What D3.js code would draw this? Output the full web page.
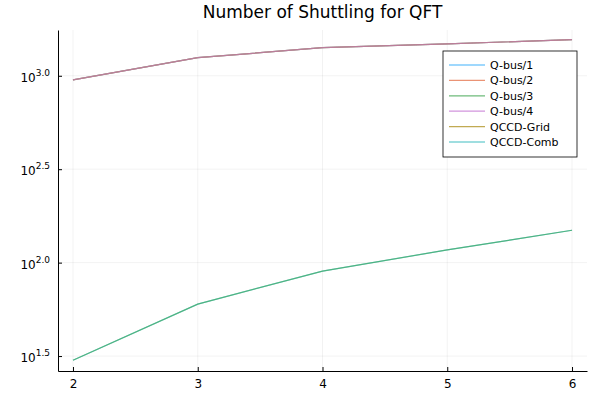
<!DOCTYPE html>
<html><head><meta charset="utf-8">
<script src="https://cdn.jsdelivr.net/npm/d3@7"></script>
<style>body{margin:0;background:#fff}text{font-family:"DejaVu Sans",sans-serif}</style>
</head><body><svg id="c" width="600" height="400"></svg>
<script>
const xs = [2, 3, 4, 5, 6];
const seriesNames = ["Q-bus/1", "Q-bus/2", "Q-bus/3", "Q-bus/4", "QCCD-Grid", "QCCD-Comb"];
const colors = ["#009AFA", "#E36F47", "#3EA44E", "#C371D2", "#AC8E18", "#00A9AD"];
const upper = [951, 1250, 1413, 1480, 1563];
const lower = [30, 60, 90, 117, 149];
const seriesValues = [upper, upper, lower, upper, upper, lower];
const drawOrder = [0, 1, 4, 3, 5, 2];
const yTicks = [1.5, 2.0, 2.5, 3.0];

const svg = d3.select("#c");
const L = 58, R = 587, T = 30, B = 371;
const x = d3.scaleLinear().domain([1.88, 6.12]).range([L, R]);
const y = d3.scaleLog().domain([Math.pow(10, 1.42), Math.pow(10, 3.245)]).range([B, T]);

const grid = svg.append("g").attr("stroke", "#000").attr("stroke-opacity", 0.1).attr("stroke-width", 0.5);
xs.forEach(v => grid.append("line").attr("x1", x(v)).attr("x2", x(v)).attr("y1", T).attr("y2", B));
yTicks.forEach(v => grid.append("line").attr("x1", L).attr("x2", R).attr("y1", y(Math.pow(10, v))).attr("y2", y(Math.pow(10, v))));

svg.append("g").attr("transform", `translate(0,${B})`)
  .call(d3.axisBottom(x).tickValues(xs).tickFormat(d3.format("d")).tickSize(-4).tickSizeOuter(0).tickPadding(8))
  .call(g => g.select(".domain").attr("stroke", "#000"))
  .call(g => g.selectAll("text").attr("font-size", 12).attr("font-family", "DejaVu Sans"));
svg.append("g").attr("transform", `translate(${L},0)`)
  .call(d3.axisLeft(y).tickValues(yTicks.map(v => Math.pow(10, v))).tickSize(-4).tickSizeOuter(0).tickFormat(""))
  .call(g => g.select(".domain").attr("stroke", "#000"));
yTicks.forEach(v => {
  const t = svg.append("text").attr("x", L - 8).attr("y", y(Math.pow(10, v)) + 6)
    .attr("text-anchor", "end").attr("font-size", 12);
  t.append("tspan").text("10");
  t.append("tspan").attr("dy", -6).attr("font-size", 9).text(v.toFixed(1));
});

const line = d3.line().x((d, i) => x(xs[i])).y(d => y(d));
drawOrder.forEach(i => {
  svg.append("path").datum(seriesValues[i]).attr("d", line).attr("fill", "none")
    .attr("stroke", colors[i]).attr("stroke-width", 1.2).attr("stroke-opacity", 0.6);
});

svg.append("text").attr("x", (L + R) / 2).attr("y", 18).attr("text-anchor", "middle")
  .attr("font-size", 17).text("Number of Shuttling for QFT");

const lg = svg.append("g").attr("transform", "translate(443,51)");
lg.append("rect").attr("width", 134).attr("height", 106).attr("fill", "#fff").attr("stroke", "#000").attr("stroke-width", 0.8);
seriesNames.forEach((n, i) => {
  const yy = 14 + i * 15.4;
  lg.append("line").attr("x1", 6).attr("x2", 42).attr("y1", yy).attr("y2", yy)
    .attr("stroke", colors[i]).attr("stroke-opacity", 0.75).attr("stroke-width", 1.2);
  lg.append("text").attr("x", 47).attr("y", yy + 4).attr("font-size", 11).text(n);
});
</script></body></html>
